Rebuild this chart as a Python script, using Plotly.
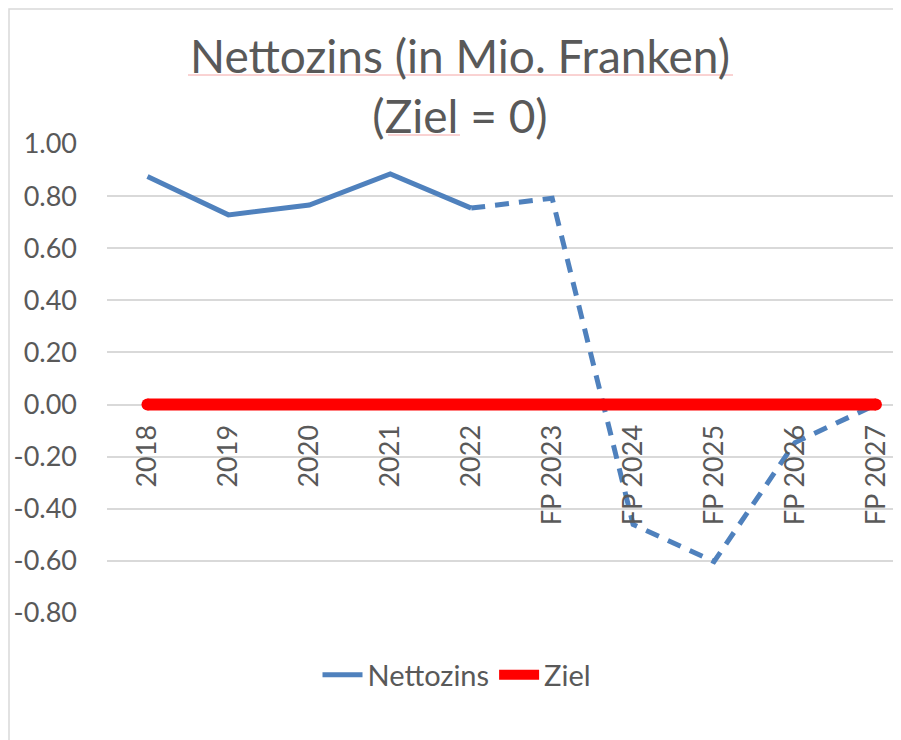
import plotly.graph_objects as go

# ---- data ----
categories = ["2018", "2019", "2020", "2021", "2022",
              "FP 2023", "FP 2024", "FP 2025", "FP 2026", "FP 2027"]
nettozins = [0.875, 0.728, 0.766, 0.885, 0.754, 0.792, -0.46, -0.603, -0.146, 0.0]
ziel = [0, 0, 0, 0, 0, 0, 0, 0, 0, 0]
last_actual = 4  # index of 2022: solid up to here, dashed afterwards
y_ticks = [1.0, 0.8, 0.6, 0.4, 0.2, 0.0, -0.2, -0.4, -0.6, -0.8]
y_tick_labels = ["%.2f" % v for v in y_ticks]

BLUE = "#4F81BD"
RED = "#FF0000"
GRAY = "#595959"
GRID = "#D9D9D9"
SPELL = "#F4A6A6"
FONT = "Lato"

OFF = 8  # page body margin: figure is drawn 8px right/down in the window
W, H = 901, 740
# plot area in window pixels: x 107..901, y 144..613
L = 107 - OFF
T = 144 - OFF
R = W - (901 - OFF)
B = H - (613 - OFF)
pw, ph = W - L - R, H - T - B


def px_x(p):  # window pixel -> plot-area paper fraction
    return (p - OFF - L) / pw


def px_y(p):
    return (H - B - (p - OFF)) / ph


fig = go.Figure()

fig.add_trace(go.Scatter(
    x=categories[:last_actual + 1], y=nettozins[:last_actual + 1],
    mode="lines", name="Nettozins",
    line=dict(color=BLUE, width=5),
))
fig.add_trace(go.Scatter(
    x=categories[last_actual:], y=nettozins[last_actual:],
    mode="lines", name="Nettozins", showlegend=False,
    line=dict(color=BLUE, width=5, dash="14px,10px"),
))
fig.add_trace(go.Scatter(
    x=categories, y=ziel, mode="lines", name="Ziel",
    line=dict(color=RED, width=12),
))
fig.add_trace(go.Scatter(
    x=[categories[0], categories[-1]], y=[ziel[0], ziel[-1]],
    mode="markers", showlegend=False, hoverinfo="skip",
    marker=dict(color=RED, size=12, line=dict(width=0)),
))

zero_pos = (0 - min(y_ticks)) / (max(y_ticks) - min(y_ticks))

fig.update_layout(
    width=W, height=H,
    margin=dict(l=L, r=R, t=T, b=B, autoexpand=False),
    paper_bgcolor="white", plot_bgcolor="white",
    font=dict(family=FONT, color=GRAY, size=27),
    title=dict(
        text="Nettozins (in Mio. Franken)<br>(Ziel = 0)",
        font=dict(family=FONT, size=46, color=GRAY),
        x=(460 - OFF) / W, xanchor="center",
        y=1 - 65 / H, yanchor="top",
    ),
    xaxis=dict(
        type="category", categoryorder="array", categoryarray=categories,
        range=[-0.5, 9.31],
        anchor="free", position=zero_pos,
        tickangle=-90, showgrid=False, showline=False, zeroline=False,
        ticks="", ticklabelstandoff=14,
        tickfont=dict(family=FONT, size=27, color=GRAY),
    ),
    yaxis=dict(
        range=[min(y_ticks), max(y_ticks)],
        tickmode="array", tickvals=y_ticks, ticktext=y_tick_labels,
        showgrid=True, gridcolor=GRID, gridwidth=1.5,
        zeroline=False, showline=False, ticks="",
        ticklabelstandoff=29,
        tickfont=dict(family=FONT, size=27, color=GRAY),
    ),
    legend=dict(
        orientation="h", x=px_x(457), xanchor="center",
        y=px_y(675), yanchor="middle",
        font=dict(family=FONT, size=29, color=GRAY),
        bgcolor="rgba(0,0,0,0)", itemwidth=40,
    ),
    showlegend=True,
    shapes=[
        dict(type="rect", xref="paper", yref="paper",
             x0=px_x(OFF + 1), x1=px_x(W + 30),
             y0=px_y(H + 30), y1=px_y(OFF + 1),
             line=dict(color=GRID, width=1.5), layer="below"),
        dict(type="line", xref="paper", yref="paper",
             x0=px_x(188), x1=px_x(733), y0=px_y(75), y1=px_y(75),
             line=dict(color=SPELL, width=1)),
        dict(type="line", xref="paper", yref="paper",
             x0=px_x(388), x1=px_x(460), y0=px_y(135), y1=px_y(135),
             line=dict(color=SPELL, width=1)),
    ],
)

fig.write_html("out.html")
